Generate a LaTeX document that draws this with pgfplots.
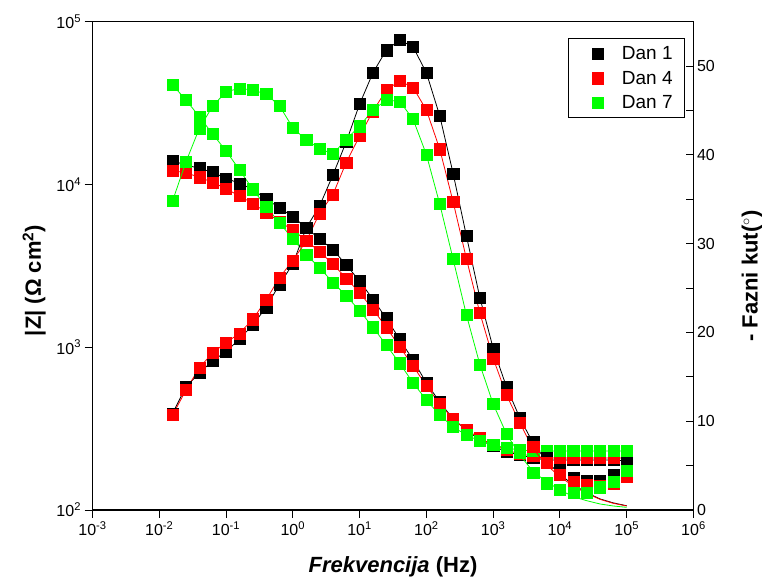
\documentclass[border=0pt]{standalone}
\usepackage{fontspec}
\setmainfont{Liberation Sans}
\usepackage{pgfplots}
\usepackage{pgfplotstable}
\pgfplotsset{compat=1.18}
\definecolor{gg}{RGB}{0,255,0}
\definecolor{rr}{RGB}{255,0,0}

\pgfplotstableread{
f Zb Zr Zg Pb Pr Pg
0.01585 13940 12150 40830 10.89 10.70 34.83
0.02512 13170 11810 33030 13.89 13.51 39.22
0.03981 12570 11070 26090 15.43 16.02 42.98
0.0631 11880 10310 20420 16.81 17.71 45.50
0.1 10910 9419 16060 17.83 18.84 47.11
0.1585 10160 8494 12320 19.26 19.90 47.49
0.2512 9340 7661 9340 20.83 21.48 47.30
0.3981 8140 6745 7302 22.83 23.65 46.85
0.631 7196 5905 5823 25.42 26.18 45.53
1 6339 5252 4623 27.70 28.10 43.05
1.585 5425 4527 3714 31.76 30.29 41.67
2.512 4623 3864 3080 34.23 33.41 40.73
3.981 3985 3246 2505 37.73 35.53 40.09
6.31 3201 2651 2073 41.48 39.16 41.75
10 2552 2163 1676 45.72 42.12 43.24
15.85 1970 1710 1326 49.25 44.93 45.05
25.12 1506 1326 1032 51.80 47.30 46.17
39.81 1119 1008 796.9 52.93 48.33 46.02
63.1 834.6 766.8 605.5 52.17 47.60 44.03
100 602.9 580.4 474.0 49.25 45.05 40.03
158.5 460.8 447.9 383.4 44.40 40.65 34.46
251.2 362.4 362.4 323.6 37.92 34.72 28.27
398.1 310.0 310.0 288.9 30.86 28.29 21.96
631 269.2 276.9 265.4 23.95 22.22 16.41
1000 247.4 250.9 250.9 18.21 17.08 11.94
1585 227.2 233.6 240.4 13.85 12.95 8.56
2512 217.7 220.8 233.6 10.36 9.80 6.42
3981 208.7 214.7 230.4 7.69 7.13 4.20
6310 202.9 208.7 230.4 5.86 5.29 3.01
10000 202.9 208.7 230.4 4.43 3.94 2.33
15850 202.9 208.7 230.4 3.68 3.19 1.95
25120 202.9 208.7 230.4 3.30 2.82 1.95
39810 202.9 208.7 230.4 3.30 2.70 2.56
63100 202.9 208.7 230.4 3.94 2.93 3.19
100000 200.0 208.7 230.4 5.33 3.75 4.43
}\datatab

\pgfplotstableread{
f Fb Fr Fg
0.01585 10.89 10.70 34.83
0.02512 13.89 13.51 39.22
0.03981 15.43 16.02 42.98
0.0631 16.81 17.71 45.50
0.1 17.83 18.84 47.11
0.1585 19.26 19.90 47.49
0.2512 20.83 21.48 47.30
0.3981 22.83 23.65 46.85
0.631 25.42 26.18 45.53
1 27.70 28.10 43.05
1.585 31.76 30.29 41.67
2.512 34.23 33.41 40.73
3.981 37.73 35.53 40.09
6.31 41.48 39.16 41.75
10 45.72 42.12 43.24
15.85 49.25 44.93 45.05
25.12 51.80 47.30 46.17
39.81 52.93 48.33 46.02
63.1 52.17 47.60 44.03
100 49.25 45.05 40.03
158.5 44.40 40.65 34.46
251.2 37.92 34.72 28.27
398.1 30.86 28.29 21.96
631 23.95 22.22 16.41
1000 18.21 17.08 11.94
1585 13.85 12.95 8.56
2512 10.36 9.80 6.19
3981 7.50 6.87 4.31
6310 5.50 5.07 3.19
10000 4.00 3.75 2.25
15850 2.85 2.70 1.50
25120 1.95 1.88 1.05
39810 1.25 1.20 0.68
63100 0.80 0.75 0.45
100000 0.48 0.45 0.30
}\fittab

\begin{document}
\begin{tikzpicture}
\path[use as bounding box] (-92.5pt,-74pt) rectangle (669.5pt,510pt);
\begin{axis}[
  width=601pt, height=488.3pt, scale only axis,
  xmode=log, log basis x=10,
  xmin=1e-3, xmax=1e6,
  axis line style={line width=1.4pt},
  every tick/.style={black, line width=1pt},
  major tick length=8pt, minor tick length=4.5pt,
  tick label style={font=\fontsize{16}{19}\selectfont},
  ymode=log, log basis y=10,
  ymin=100, ymax=100000,
  tick pos=left, tick align=outside,
  xtick={1e-3,1e-2,1e-1,1,1e1,1e2,1e3,1e4,1e5,1e6},
  xticklabels={10\textsuperscript{-3},10\textsuperscript{-2},10\textsuperscript{-1},10\textsuperscript{0},10\textsuperscript{1},10\textsuperscript{2},10\textsuperscript{3},10\textsuperscript{4},10\textsuperscript{5},10\textsuperscript{6}},
  ytick={1e2,1e3,1e4,1e5},
  yticklabels={10\textsuperscript{2},10\textsuperscript{3},10\textsuperscript{4},10\textsuperscript{5}},
  xlabel={\textbf{\textit{Frekvencija}} \textbf{(Hz)}},
  ylabel={\textbf{|Z| (Ω cm\textsuperscript{2})}},
  xlabel style={font=\fontsize{22}{26}\selectfont, at={(axis description cs:0.5,-0.1167)}, anchor=center},
  ylabel style={font=\fontsize{22}{26}\selectfont, at={(axis description cs:-0.097,0.47)}, anchor=center},
]
\addplot[no marks, black, line width=0.8pt] table[x=f,y=Zb] {\datatab};
\addplot[only marks, mark=square*, mark size=5.6pt, black] table[x=f,y=Zb] {\datatab};
\addplot[no marks, rr, line width=0.8pt] table[x=f,y=Zr] {\datatab};
\addplot[only marks, mark=square*, mark size=5.6pt, rr] table[x=f,y=Zr] {\datatab};
\addplot[no marks, gg, line width=0.8pt] table[x=f,y=Zg] {\datatab};
\addplot[only marks, mark=square*, mark size=5.6pt, gg] table[x=f,y=Zg] {\datatab};
\end{axis}
\begin{axis}[
  width=601pt, height=488.3pt, scale only axis,
  xmode=log, log basis x=10,
  xmin=1e-3, xmax=1e6,
  axis line style={line width=1.4pt},
  every tick/.style={black, line width=1pt},
  tick label style={font=\fontsize{16}{19}\selectfont},
  /pgf/number format/assume math mode=true,
  axis x line=none, axis y line*=right,
  ymin=0, ymax=55,
  ytick={0,10,20,30,40,50},
  minor ytick={5,15,25,35,45},
  major tick length=8pt, minor tick length=8pt,
  ytick align=inside,
  ylabel={\textbf{- Fazni kut(}$^{\circ}$\textbf{)}},
  ylabel style={font=\fontsize{22}{26}\selectfont, at={(axis description cs:1.0973,0.479)}, anchor=center},
  legend image code/.code={\path[draw=none,fill=none] (0pt,-12.15pt) rectangle (54pt,12.15pt); \draw[#1] plot coordinates {(30pt,0pt)};},
  legend style={at={(0.9859,0.9656)}, anchor=north east, draw=black, line width=0.8pt,
    font=\fontsize{19}{22}\selectfont, inner xsep=0pt, inner ysep=3pt, row sep=0pt,
    nodes={inner sep=0pt}},
  legend cell align=left,
]
\addplot[no marks, black, line width=0.8pt, forget plot] table[x=f,y=Fb] {\fittab};
\addplot[only marks, mark=square*, mark size=5.6pt, black] table[x=f,y=Pb] {\datatab};
\addlegendentry{Dan 1\hspace*{12pt}}
\addplot[no marks, rr, line width=0.8pt, forget plot] table[x=f,y=Fr] {\fittab};
\addplot[only marks, mark=square*, mark size=5.6pt, rr] table[x=f,y=Pr] {\datatab};
\addlegendentry{Dan 4\hspace*{12pt}}
\addplot[no marks, gg, line width=0.8pt, forget plot] table[x=f,y=Fg] {\fittab};
\addplot[only marks, mark=square*, mark size=5.6pt, gg] table[x=f,y=Pg] {\datatab};
\addlegendentry{Dan 7\hspace*{12pt}}
\end{axis}
\end{tikzpicture}
\end{document}
